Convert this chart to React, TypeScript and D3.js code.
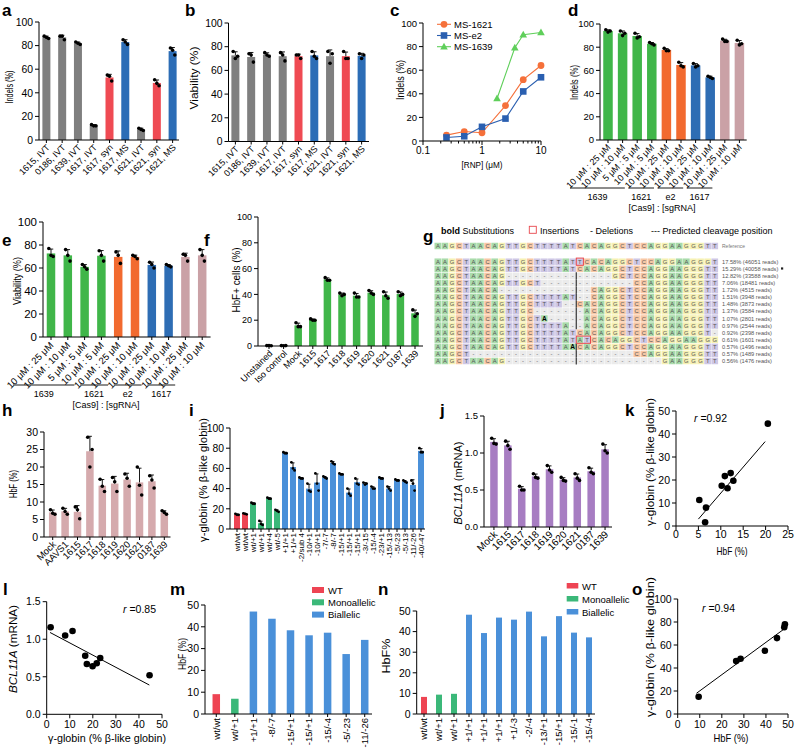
import React from 'react';
import * as d3 from 'd3';

const FONT = "'Liberation Sans', Arial, Helvetica, sans-serif";

// ---------------- DATA ----------------
// a / b
const abCats = ['1615, IVT', '0186, IVT', '1639, IVT', '1617, IVT', '1617, syn', '1617, MS', '1621, IVT', '1621, syn', '1621, MS'];
const abKind = ['IVT', 'IVT', 'IVT', 'IVT', 'syn', 'MS', 'IVT', 'syn', 'MS'];
const aIndels = [[88, 86, 87], [88, 85, 88], [83, 81, 82], [13, 12, 12], [55, 50, 54], [85, 81, 83], [10, 8, 9], [51, 46, 48], [78, 72, 76]];
const bViability = [[76, 72, 70], [74, 67, 73], [75, 72, 73], [75, 68, 73], [73, 70, 73], [76, 70, 72], [76, 74, 66], [76, 70, 70], [74, 73, 70]];

// c
const cSeriesNames = ['MS-1621', 'MS-e2', 'MS-1639'];
const cDose = [0.25, 0.5, 1, 2.5, 5, 10];
const cMS1621 = [5, 8, 7, 30, 52, 64];
const cMSe2 = [3, 4, 12, 19, 42, 54];
const cDose1639 = [1.8, 3.6, 5, 10];
const cMS1639 = [36, 79, 90, 92];

// d / e
const deCats = ['10 μM : 25 μM', '10 μM : 10 μM', '5 μM : 5 μM', '10 μM : 5 μM', '10 μM : 25 μM', '10 μM : 10 μM', '10 μM : 25 μM', '10 μM : 10 μM', '10 μM : 25 μM', '10 μM : 10 μM'];
const deGuide = ['1639', '1639', '1639', '1639', '1621', '1621', 'e2', 'e2', '1617', '1617'];
const deGroups = ['1639', '1621', 'e2', '1617'];
const dIndels = [[95, 94, 93], [94, 92, 90], [92, 89, 88], [84, 82, 83], [79, 77, 77], [67, 63, 64], [66, 64, 63], [55, 53, 54], [87, 85, 85], [86, 83, 82]];
const eViability = [[77, 70, 71], [76, 66, 71], [63, 59, 61], [75, 66, 71], [74, 64, 71], [71, 68, 70], [65, 60, 63], [63, 61, 62], [72, 66, 71], [76, 66, 71]];

// f
const fCats = ['Unstained', 'Iso control', 'Mock', '1615', '1617', '1618', '1619', '1620', '1621', '0187', '1639'];
const fHbFcells = [[0.3, 0.2, 0.3], [0.3, 0.3, 0.2], [18, 15, 15], [21, 20, 20], [53, 51, 51], [41, 40, 39], [41, 38, 38], [43, 40, 41], [42, 37, 39], [42, 40, 39], [28, 25, 23]];

// g
const gLegend = ['Substitutions', 'Insertions', '- Deletions', '--- Predicted cleavage position'];
const gRef = 'AAGCTAACAGTTGCTTTTATCACAGGCTCCAGGAAGGGTT';
const gRows = [
  'AAGCTAACAGTTGCTTTTAT' + 'T' + 'CACAGGCTCCAGGAAGGGT',
  'AAGCTAACAGTTGCTTTTATCACAGGCTCCAGGAAGGGTT',
  'AAGCTAACAG' + '---------------' + 'GCTCCAGGAAGGGTT',
  'AAGCTAACAGTTGCT' + '-------------' + 'CCAGGAAGGGTT',
  'AAGCTAACA' + '-------------' + 'CAGGCTCCAGGAAGGGTT',
  'AAGCTAACAGTTGCTTTTAT' + '--' + 'CAGGCTCCAGGAAGGGTT',
  'AAGCTAACAGTTGCTTTT' + '--' + 'CACAGGCTCCAGGAAGGGTT',
  'AAGCTAACAGTTGC' + '-------' + 'ACAGGCTCCAGGAAGGGTT',
  'AAGCTAACAGTTGCTA' + '-----' + 'ACAGGCTCCAGGAAGGGTT',
  'AAGCTAACAGTTGCTTTTA' + '--' + 'ACAGGCTCCAGGAAGGGTT',
  'AAGCTAACAGTTGCTTTTATCACAGGCTCCAGGAAGGGT' + '-',
  'AAGCTAACAGTTGCTTTTAT' + 'AT' + 'CACAGGCTCCAGGAAGGG',
  'AAGCTAACAGTTGCTTTTA' + 'A' + 'CACAGGCTCCAGGAAGGGTT',
  'AAGCT' + '-----------------------' + 'CCAGGAAGGGTT',
  'AAGCTAACAG' + '----------------------' + 'GAAGGGTT',
];
const gReads = ['17.58% (46051 reads)', '15.29% (40058 reads)', '12.82% (33588 reads)', '7.06% (18481 reads)', '1.72% (4515 reads)', '1.51% (3948 reads)', '1.48% (3873 reads)', '1.37% (3584 reads)', '1.07% (2801 reads)', '0.97% (2544 reads)', '0.92% (2398 reads)', '0.61% (1601 reads)', '0.57% (1496 reads)', '0.57% (1489 reads)', '0.56% (1476 reads)'];
const gInsertions = [[0, 20, 1], [11, 20, 2]]; // row, start, length
const gSubstitutions = [[8, 15], [12, 19]]; // row, position
const gCutRows = [2, 3, 4, 5, 6, 7, 8, 9, 12, 13, 14];
const gCutIndex = 20;

// h
const hCats = ['Mock', 'AAVS1', '1615', '1617', '1618', '1619', '1620', '1621', '0187', '1639'];
const hHbF = [[7.8, 6.5, 6.8], [8.2, 6.5, 7.3], [8.6, 5.2, 7.8], [28.5, 25, 20], [16.5, 13, 14.5], [17, 13, 15.8], [18, 14.5, 16.8], [20, 12, 14.8], [17.5, 14, 16.3], [7.5, 6.5, 7]];

// i
const iCats = ['wt/wt', 'wt/wt', 'wt/+1', 'wt/+1', 'wt/+4', 'wt/-5', '+1/+1', '+1/+1', '-2/sub 4', '-10/+1', '-10/+1', '-7/-7', '-8/-7', '-15/+1', '-15/+1', '-15/+1', '-3/-15', '-15/-4', '-23/+1', '-15/-13', '-5/-23', '-5/-13', '-11/-26', '-40/-47'];
const iType = ['WT', 'WT', 'Mono', 'Mono', 'Mono', 'Mono', 'Bi', 'Bi', 'Bi', 'Bi', 'Bi', 'Bi', 'Bi', 'Bi', 'Bi', 'Bi', 'Bi', 'Bi', 'Bi', 'Bi', 'Bi', 'Bi', 'Bi', 'Bi'];
const iGamma = [[15, 14, 14], [15.5, 14.5, 15], [26, 25, 25], [8, 4, 5], [31, 30, 30], [19, 17, 18], [76, 75, 75], [66, 58, 60], [51, 50, 50], [45, 37, 38], [55, 38, 45], [52, 50, 51], [67, 64, 65], [55, 54, 54], [40, 33, 35], [50, 44, 45], [46, 45, 44], [42, 40, 40], [51, 50, 50], [42, 38, 40], [49, 48, 48], [48, 46, 47], [48, 38, 45], [80, 76, 76]];

// j
const jCats = ['Mock', '1615', '1617', '1618', '1619', '1620', '1621', '0187', '1639'];
const jBCL11A = [[1.2, 1.12, 1.13], [1.16, 1.05, 1.1], [0.55, 0.5, 0.5], [0.72, 0.66, 0.67], [0.83, 0.74, 0.77], [0.67, 0.62, 0.63], [0.72, 0.63, 0.66], [0.8, 0.72, 0.74], [1.12, 1.0, 1.03]];

// k
const kHbF = [5.2, 6.5, 6.7, 10.2, 10.9, 11.5, 12.2, 12.8, 20.5];
const kGamma = [11.3, 1.6, 8, 17.5, 21.7, 16.4, 23, 19.7, 44.5];
const kFit = [[5, 3], [19.9, 36.7]];

// l
const lGamma = [1.7, 8, 11.2, 16.7, 17.4, 19.9, 21.7, 23.2, 44.6];
const lBCL11A = [1.16, 1.05, 1.11, 0.78, 0.67, 0.64, 0.68, 0.75, 0.52];
const lFit = [[1.45, 1.09], [44.5, 0.39]];

// m
const legendNames = ['WT', 'Monoallelic', 'Biallelic'];
const legendKeys = ['WT', 'Mono', 'Bi'];
const mCats = ['wt/wt', 'wt/+1', '+1/+1', '-8/-7', '-15/+1', '-15/+1', '-15/-4', '-5/-23', '-11/-26'];
const mType = ['WT', 'Mono', 'Bi', 'Bi', 'Bi', 'Bi', 'Bi', 'Bi', 'Bi'];
const mHbF = [9.1, 7, 47, 43.7, 38.4, 36.1, 37.3, 27.5, 34];

// n
const nCats = ['wt/wt', 'wt/+1', 'wt/+1', '+1/+1', '+1/+1', '+1/+1', '+1/-3', '-2/-4', '-13/+1', '-15/+1', '-15/-1', '-15/-4'];
const nType = ['WT', 'Mono', 'Mono', 'Bi', 'Bi', 'Bi', 'Bi', 'Bi', 'Bi', 'Bi', 'Bi', 'Bi'];
const nHbF = [8.3, 9.4, 9.8, 48.2, 39.3, 46.8, 45.8, 49.7, 37.7, 47.5, 39.5, 37.2];

// o
const oHbF = [9.5, 26.5, 28.5, 39.5, 45, 48.3, 48.6];
const oGamma = [15, 46, 48, 55, 66, 75.5, 78];
const oFit = [[8.5, 18], [47.8, 73.3]];

// ---------------- STYLE ----------------
const kindColor: Record<string, string> = { IVT: '#7f7f7f', syn: '#ef4a53', MS: '#2c6db6' };
const groupColor: Record<string, string> = { '1639': '#40b649', '1621': '#f26a2f', e2: '#2e6db4', '1617': '#caa1a6' };
const typeColor: Record<string, string> = { WT: '#ee4453', Mono: '#3bb879', Bi: '#4a90d9' };
const cColors = ['#f5703a', '#2a5fb0', '#5fcf5a'];
const ntColor: Record<string, string> = { A: '#a9dbab', C: '#f8c8a5', G: '#f6f1b3', T: '#cec7e5', '-': '#ebebeb' };

// ---------------- COMPONENTS ----------------
function VTitle({ x, y, len, fs = 10.5, children }: any) {
  return (
    <text transform={`translate(${x},${y}) rotate(-90)`} textAnchor="middle" fontSize={fs} textLength={len} lengthAdjust="spacingAndGlyphs">
      {children}
    </text>
  );
}

function BarPanel(p: any) {
  const n = p.cats.length;
  const xb = d3.scaleBand<number>().domain(d3.range(n)).range([p.x0, p.x1]);
  const cx = (i: number) => (xb(i) as number) + xb.bandwidth() / 2;
  const y = d3.scaleLinear().domain([0, p.yMax]).range([p.yBot, p.yTop]);
  const ticks = d3.range(0, p.yMax + 1e-9, p.tickStep);
  const fmt = p.fmt || ((v: number) => String(v));
  const vals: number[] = p.dots ? p.dots.map((d: number[]) => d3.mean(d) as number) : p.vals;
  const errs: number[] | null = p.dots ? p.dots.map((d: number[]) => d3.deviation(d) as number) : null;
  const off = [-1, 1, 0];
  const sp = p.spread ?? 2.2;
  return (
    <g>
      {vals.map((v, i) => (
        <rect key={'b' + i} x={cx(i) - p.barW / 2} y={y(v)} width={p.barW} height={p.yBot - y(v)} fill={p.colors[i]} />
      ))}
      {errs && vals.map((v, i) => {
        const t = y(v + errs[i]);
        return (
          <g key={'e' + i} stroke="#000" strokeWidth={0.9}>
            <line x1={cx(i)} x2={cx(i)} y1={y(v)} y2={t} />
            <line x1={cx(i) - p.capW / 2} x2={cx(i) + p.capW / 2} y1={t} y2={t} />
          </g>
        );
      })}
      {p.dots && p.dots.map((d: number[], i: number) => d.map((v, j) => (
        <circle key={`d${i}-${j}`} cx={cx(i) + off[j] * sp} cy={y(v)} r={p.dotR ?? 1.8} fill="#000" />
      )))}
      <line x1={p.axisX} x2={p.axisX} y1={p.yTop} y2={p.yBot} stroke="#000" />
      <line x1={p.axisX} x2={p.xEnd ?? p.x1} y1={p.yBot} y2={p.yBot} stroke="#000" />
      {ticks.map((t) => (
        <g key={'t' + t}>
          <line x1={p.axisX - 4} x2={p.axisX} y1={y(t)} y2={y(t)} stroke="#000" />
          <text x={p.axisX - 6} y={y(t) + p.tfs * 0.36} fontSize={p.tfs} textAnchor="end">{fmt(t)}</text>
        </g>
      ))}
      {p.cats.map((c: string, i: number) => (
        <line key={'xt' + i} x1={cx(i)} x2={cx(i)} y1={p.yBot} y2={p.yBot + 3} stroke="#000" />
      ))}
      {p.cats.map((c: string, i: number) =>
        p.rot === 45 ? (
          <text key={'xl' + i} transform={`translate(${cx(i) + p.ldx},${p.yBot + p.ldy}) rotate(-45)`} textAnchor="end" fontSize={p.lfs}>{c}</text>
        ) : (
          <text key={'xl' + i} transform={`translate(${cx(i) + p.lfs * 0.36},${p.yBot + p.ldy}) rotate(-90)`} textAnchor="end" fontSize={p.lfs}>{c}</text>
        )
      )}
      {p.groups && (() => {
        const out: any[] = [];
        p.groups.forEach((g: string, gi: number) => {
          const idx = p.guide.map((v: string, i: number) => (v === g ? i : -1)).filter((i: number) => i >= 0);
          const s = cx(idx[0]) - 38;
          const e = cx(idx[idx.length - 1]) - 27;
          out.push(<line key={'gl' + gi} x1={s} x2={e} y1={p.gy} y2={p.gy} stroke="#000" strokeWidth={0.9} />);
          out.push(<text key={'gt' + gi} x={(s + e) / 2} y={p.gy + 11.5} fontSize={9} textAnchor="middle">{g}</text>);
        });
        out.push(<text key="cas" x={p.casX} y={p.gy + 23} fontSize={9} textAnchor="middle">[Cas9] : [sgRNA]</text>);
        return out;
      })()}
      {p.title}
    </g>
  );
}

function Scatter(p: any) {
  const x = d3.scaleLinear().domain([0, p.xMax]).range([p.xa, p.xb]);
  const y = d3.scaleLinear().domain([0, p.yMax]).range([p.ya, p.yb]);
  const xt = d3.range(0, p.xMax + 1e-9, p.xStep);
  const yt = d3.range(0, p.yMax + 1e-9, p.yStep);
  const fy = p.yFmt || ((v: number) => String(v));
  const line = d3.line<number[]>().x((d) => x(d[0])).y((d) => y(d[1]));
  return (
    <g>
      <line x1={p.xa} x2={p.xb} y1={p.ya} y2={p.ya} stroke="#000" />
      <line x1={p.xa} x2={p.xa} y1={p.ya} y2={p.yb} stroke="#000" />
      {xt.map((t) => (
        <g key={'x' + t}>
          <line x1={x(t)} x2={x(t)} y1={p.ya} y2={p.ya + 4} stroke="#000" />
          <text x={x(t)} y={p.ya + p.xlDy} fontSize={p.tfs} textAnchor="middle">{t}</text>
        </g>
      ))}
      {yt.map((t) => (
        <g key={'y' + t}>
          <line x1={p.xa - 4} x2={p.xa} y1={y(t)} y2={y(t)} stroke="#000" />
          <text x={p.xa - 6} y={y(t) + p.tfs * 0.36} fontSize={p.tfs} textAnchor="end">{fy(t)}</text>
        </g>
      ))}
      <path d={line(p.fit) || ''} stroke="#000" strokeWidth={1} fill="none" />
      {p.xs.map((v: number, i: number) => (
        <circle key={'p' + i} cx={x(v)} cy={y(p.ys[i])} r={3.3} fill="#000" />
      ))}
      <text x={p.rx} y={p.ry} fontSize={10.5}><tspan fontStyle="italic">r</tspan> ={p.r}</text>
      {p.children}
    </g>
  );
}

function PanelC() {
  const x = d3.scaleLog().domain([0.1, 10]).range([423, 541]);
  const y = d3.scaleLinear().domain([0, 100]).range([141, 23]);
  const ln = d3.line<number[]>().x((d) => x(d[0])).y((d) => y(d[1]));
  const s1 = cDose.map((d, i) => [d, cMS1621[i]]);
  const s2 = cDose.map((d, i) => [d, cMSe2[i]]);
  const s3 = cDose1639.map((d, i) => [d, cMS1639[i]]);
  const minor = [0.2, 0.3, 0.4, 0.5, 0.6, 0.7, 0.8, 0.9, 2, 3, 4, 5, 6, 7, 8, 9];
  const marker = (k: number, px: number, py: number, key: string) => {
    if (k === 0) return <circle key={key} cx={px} cy={py} r={3.4} fill={cColors[0]} />;
    if (k === 1) return <rect key={key} x={px - 3.3} y={py - 3.3} width={6.6} height={6.6} fill={cColors[1]} />;
    return <path key={key} d={`M${px},${py - 4}L${px + 3.8},${py + 2.8}L${px - 3.8},${py + 2.8}Z`} fill={cColors[2]} />;
  };
  return (
    <g>
      {[s1, s2, s3].map((s, k) => (
        <g key={'s' + k}>
          <path d={ln(s) || ''} stroke={cColors[k]} strokeWidth={1.1} fill="none" />
          {s.map((d, i) => marker(k, x(d[0]), y(d[1]), `m${k}-${i}`))}
        </g>
      ))}
      <line x1={423} x2={423} y1={23} y2={141} stroke="#000" />
      <line x1={423} x2={541} y1={141} y2={141} stroke="#000" />
      {[0, 20, 40, 60, 80, 100].map((t) => (
        <g key={'cy' + t}>
          <line x1={419} x2={423} y1={y(t)} y2={y(t)} stroke="#000" />
          <text x={417} y={y(t) + 3.5} fontSize={9.5} textAnchor="end">{t}</text>
        </g>
      ))}
      {[0.1, 1, 10].map((t) => (
        <g key={'cx' + t}>
          <line x1={x(t)} x2={x(t)} y1={141} y2={145} stroke="#000" />
          <text x={x(t)} y={154} fontSize={10} textAnchor="middle">{t}</text>
        </g>
      ))}
      {minor.map((t) => <line key={'mn' + t} x1={x(t)} x2={x(t)} y1={141} y2={143.5} stroke="#000" />)}
      <text x={482} y={168} fontSize={9.5} textAnchor="middle" textLength={41} lengthAdjust="spacingAndGlyphs">[RNP] (μM)</text>
      {cSeriesNames.map((nm, k) => {
        const ly = 24.3 + k * 11.2;
        return (
          <g key={'lg' + k}>
            <line x1={437} x2={451} y1={ly} y2={ly} stroke={cColors[k]} strokeWidth={1.1} />
            {marker(k, 444, ly, 'lm' + k)}
            <text x={454} y={ly + 3.4} fontSize={9.5}>{nm}</text>
          </g>
        );
      })}
      <VTitle x={403.5} y={80} len={40}>Indels (%)</VTitle>
    </g>
  );
}

function PanelG() {
  const cx = d3.scaleLinear().domain([0, 40]).range([434.3, 718.3]);
  const cw = 7.1;
  const ch = 6.5;
  const rowY = d3.scaleLinear().domain([0, 14]).range([261.7, 361]);
  const refY = 246;
  const subSet = new Set(gSubstitutions.map((s) => `${s[0]}-${s[1]}`));
  const rowCells = (seq: string, yc: number, r: number) =>
    seq.split('').map((ch0, i) => {
      const isSub = r >= 0 && subSet.has(`${r}-${i}`);
      return (
        <g key={`c${r}-${i}`}>
          <rect x={cx(i) + 0.2} y={yc - ch / 2} width={cw - 0.4} height={ch} fill={ntColor[ch0]} />
          <text x={cx(i) + cw / 2} y={yc + 2.1} fontSize={isSub ? 6.6 : 5.8} fontWeight={isSub ? 'bold' : 'normal'} fill={isSub ? '#000' : '#555'} textAnchor="middle">{ch0}</text>
        </g>
      );
    });
  return (
    <g>
      <text x={441} y={233.5} fontSize={9}><tspan fontWeight="bold">bold</tspan> {gLegend[0]}</text>
      <rect x={529.3} y={226.3} width={7} height={7} fill="#fff" stroke="#e8474d" strokeWidth={0.9} />
      <text x={540} y={233.5} fontSize={9}>{gLegend[1]}</text>
      <text x={590} y={233.5} fontSize={9}>{gLegend[2]}</text>
      <text x={651} y={233.5} fontSize={9}>{gLegend[3]}</text>
      {rowCells(gRef, refY, -1)}
      <text x={722} y={248} fontSize={5} fill="#777">Reference</text>
      {gRows.map((s, r) => <g key={'r' + r}>{rowCells(s, rowY(r), r)}</g>)}
      {gCutRows.map((r) => (
        <line key={'cut' + r} x1={cx(gCutIndex)} x2={cx(gCutIndex)} y1={rowY(r) - 3.6} y2={rowY(r) + 3.6} stroke="#444" strokeWidth={1.3} />
      ))}
      {gInsertions.map((ins, k) => (
        <rect key={'ins' + k} x={cx(ins[1])} y={rowY(ins[0]) - 3.6} width={cw * ins[2]} height={7.2} fill="none" stroke="#e8474d" strokeWidth={1} />
      ))}
      {gReads.map((t, r) => (
        <text key={'rd' + r} x={722} y={rowY(r) + 2.1} fontSize={5.7} fill="#555">{t}</text>
      ))}
      <rect x={781} y={rowY(1) - 1.4} width={2.2} height={2.2} fill="#222" />
    </g>
  );
}

const letters: [string, number, number][] = [
  ['a', 2, 16], ['b', 185, 16], ['c', 390, 16], ['d', 568, 16],
  ['e', 2, 246], ['f', 204, 246], ['g', 423, 242],
  ['h', 2, 416], ['i', 189, 416], ['j', 440, 416], ['k', 625, 416],
  ['l', 3, 595], ['m', 170, 595], ['n', 378, 595], ['o', 632, 595],
];

export default function App() {
  return (
    <svg width={800} height={755} style={{ position: 'absolute', left: 0, top: 0, background: '#fff' }} fontFamily={FONT}>
      <rect width={800} height={755} fill="#fff" />
      {letters.map(([t, x, y]) => (
        <text key={t} x={x} y={y} fontSize={17} fontWeight="bold">{t}</text>
      ))}

      {/* a */}
      <BarPanel cats={abCats} dots={aIndels} colors={abKind.map((k) => kindColor[k])}
        x0={38.5} x1={180.5} xEnd={179} axisX={39} yTop={22} yBot={140} yMax={100} tickStep={20}
        barW={8} capW={4.5} tfs={10.4} rot={45} lfs={9} ldx={4} ldy={8}
        title={<VTitle x={12.5} y={87} len={33}>Indels (%)</VTitle>} />
      {/* b */}
      <BarPanel cats={abCats} dots={bViability} colors={abKind.map((k) => kindColor[k])}
        x0={227.5} x1={369.5} xEnd={369} axisX={228.5} yTop={23} yBot={141.5} yMax={100} tickStep={20}
        barW={8} capW={4.5} tfs={10.4} rot={45} lfs={9} ldx={4} ldy={8}
        title={<VTitle x={197.5} y={78} len={63}>Viability (%)</VTitle>} />
      {/* c */}
      <PanelC />
      {/* d */}
      <BarPanel cats={deCats} dots={dIndels} colors={deGuide.map((g) => groupColor[g])}
        x0={600.7} x1={746.7} axisX={600} yTop={24} yBot={140} yMax={100} tickStep={20}
        barW={9.5} capW={4.5} tfs={9.5} rot={45} lfs={9} ldx={3} ldy={8}
        groups={deGroups} guide={deGuide} gy={188} casX={662}
        title={<VTitle x={577.5} y={82.5} len={35}>Indels (%)</VTitle>} />
      {/* e */}
      <BarPanel cats={deCats} dots={eViability} colors={deGuide.map((g) => groupColor[g])}
        x0={42.6} x1={210.6} axisX={43} yTop={222} yBot={337} yMax={100} tickStep={20}
        barW={8.5} capW={4.5} tfs={11.5} rot={45} lfs={9.5} ldx={3} ldy={9}
        groups={deGroups} guide={deGuide} gy={385} casX={106}
        title={<VTitle x={20.5} y={281} len={48}>Viability (%)</VTitle>} />
      {/* f */}
      <BarPanel cats={fCats} dots={fHbFcells} colors={fCats.map(() => groupColor['1639'])}
        x0={261.7} x1={422.3} xEnd={423} axisX={258} yTop={217} yBot={346} yMax={100} tickStep={20}
        barW={7.5} capW={4} tfs={9} rot={45} lfs={9} ldx={4} ldy={8}
        title={<VTitle x={239.5} y={280} len={65}>HbF+ cells (%)</VTitle>} />
      {/* g */}
      <PanelG />
      {/* h */}
      <BarPanel cats={hCats} dots={hHbF} colors={hCats.map(() => '#d5aaad')}
        x0={46.5} x1={170.5} axisX={44} yTop={432} yBot={537} yMax={30} tickStep={5}
        barW={7.5} capW={4} tfs={10.5} rot={45} lfs={9.5} ldx={4} ldy={8}
        title={<VTitle x={16.5} y={484} len={28}>HbF (%)</VTitle>} />
      {/* i */}
      <BarPanel cats={iCats} dots={iGamma} colors={iType.map((t) => typeColor[t])}
        x0={233} x1={425} axisX={230} yTop={428} yBot={529} yMax={100} tickStep={20}
        barW={6} capW={3} dotR={1.4} spread={1.6} tfs={10.4} rot={90} lfs={8} ldy={4}
        title={<VTitle x={206.5} y={480} len={124}>γ-globin (% β-like globin)</VTitle>} />
      {/* j */}
      <BarPanel cats={jCats} dots={jBCL11A} colors={jCats.map(() => '#a77dc2')}
        x0={487} x1={612} axisX={484} yTop={416} yBot={527} yMax={1.5} tickStep={0.5} fmt={(v: number) => v.toFixed(1)}
        barW={7.5} capW={4} tfs={9.5} rot={45} lfs={10} ldx={4} ldy={8}
        title={<VTitle x={461.5} y={483} len={83}><tspan fontStyle="italic">BCL11A</tspan> (mRNA)</VTitle>} />
      {/* k */}
      <Scatter xs={kHbF} ys={kGamma} fit={kFit} xMax={25} xStep={5} yMax={50} yStep={10}
        xa={676} xb={788} ya={526} yb={411} tfs={10.5} xlDy={11.5} rx={694} ry={422} r="0.92">
        <text x={732} y={555} fontSize={10.5} textAnchor="middle" textLength={31} lengthAdjust="spacingAndGlyphs">HbF (%)</text>
        <VTitle x={653.5} y={462} len={128}>γ-globin (% β-like globin)</VTitle>
      </Scatter>
      {/* l */}
      <Scatter xs={lGamma} ys={lBCL11A} fit={lFit} xMax={50} xStep={10} yMax={1.5} yStep={0.5} yFmt={(v: number) => v.toFixed(1)}
        xa={46.7} xb={162} ya={714.3} yb={601.7} tfs={10.5} xlDy={14} rx={123} ry={613} r="0.85">
        <text x={107} y={742} fontSize={10.5} textAnchor="middle" textLength={118} lengthAdjust="spacingAndGlyphs">γ-globin (% β-like globin)</text>
        <VTitle x={16.5} y={649} len={88}><tspan fontStyle="italic">BCL11A</tspan> (mRNA)</VTitle>
      </Scatter>
      {/* m */}
      <BarPanel cats={mCats} vals={mHbF} colors={mType.map((t) => typeColor[t])}
        x0={207} x1={374} xEnd={372} axisX={205} yTop={605} yBot={714} yMax={50} tickStep={10}
        barW={7.5} tfs={10.5} rot={90} lfs={9.5} ldy={4}
        title={<VTitle x={185.5} y={654} len={32}>HbF (%)</VTitle>} />
      {legendNames.map((nm, k) => (
        <g key={'ml' + k}>
          <rect x={312} y={587 + k * 12.3} width={12} height={6} fill={typeColor[legendKeys[k]]} />
          <text x={328} y={593.5 + k * 12.3} fontSize={9.5}>{nm}</text>
        </g>
      ))}
      {/* n */}
      <BarPanel cats={nCats} vals={nHbF} colors={nType.map((t) => typeColor[t])}
        x0={416.5} x1={596.5} xEnd={595} axisX={416.7} yTop={611} yBot={714} yMax={50} tickStep={10}
        barW={6} tfs={10.5} rot={90} lfs={9.5} ldy={4}
        title={<VTitle x={389.5} y={656} len={35}>HbF%</VTitle>} />
      {legendNames.map((nm, k) => (
        <g key={'nl' + k}>
          <rect x={566.7} y={583 + k * 13} width={11.6} height={5.5} fill={typeColor[legendKeys[k]]} />
          <text x={582} y={589.5 + k * 13} fontSize={9.5}>{nm}</text>
        </g>
      ))}
      {/* o */}
      <Scatter xs={oHbF} ys={oGamma} fit={oFit} xMax={50} xStep={10} yMax={100} yStep={20}
        xa={677.7} xb={788} ya={714} yb={599} tfs={10.5} xlDy={14} rx={702} ry={612} r="0.94">
        <text x={731} y={742} fontSize={10.5} textAnchor="middle" textLength={35} lengthAdjust="spacingAndGlyphs">HbF (%)</text>
        <VTitle x={653.5} y={647} len={140}>γ-globin (% β-like globin)</VTitle>
      </Scatter>
    </svg>
  );
}
